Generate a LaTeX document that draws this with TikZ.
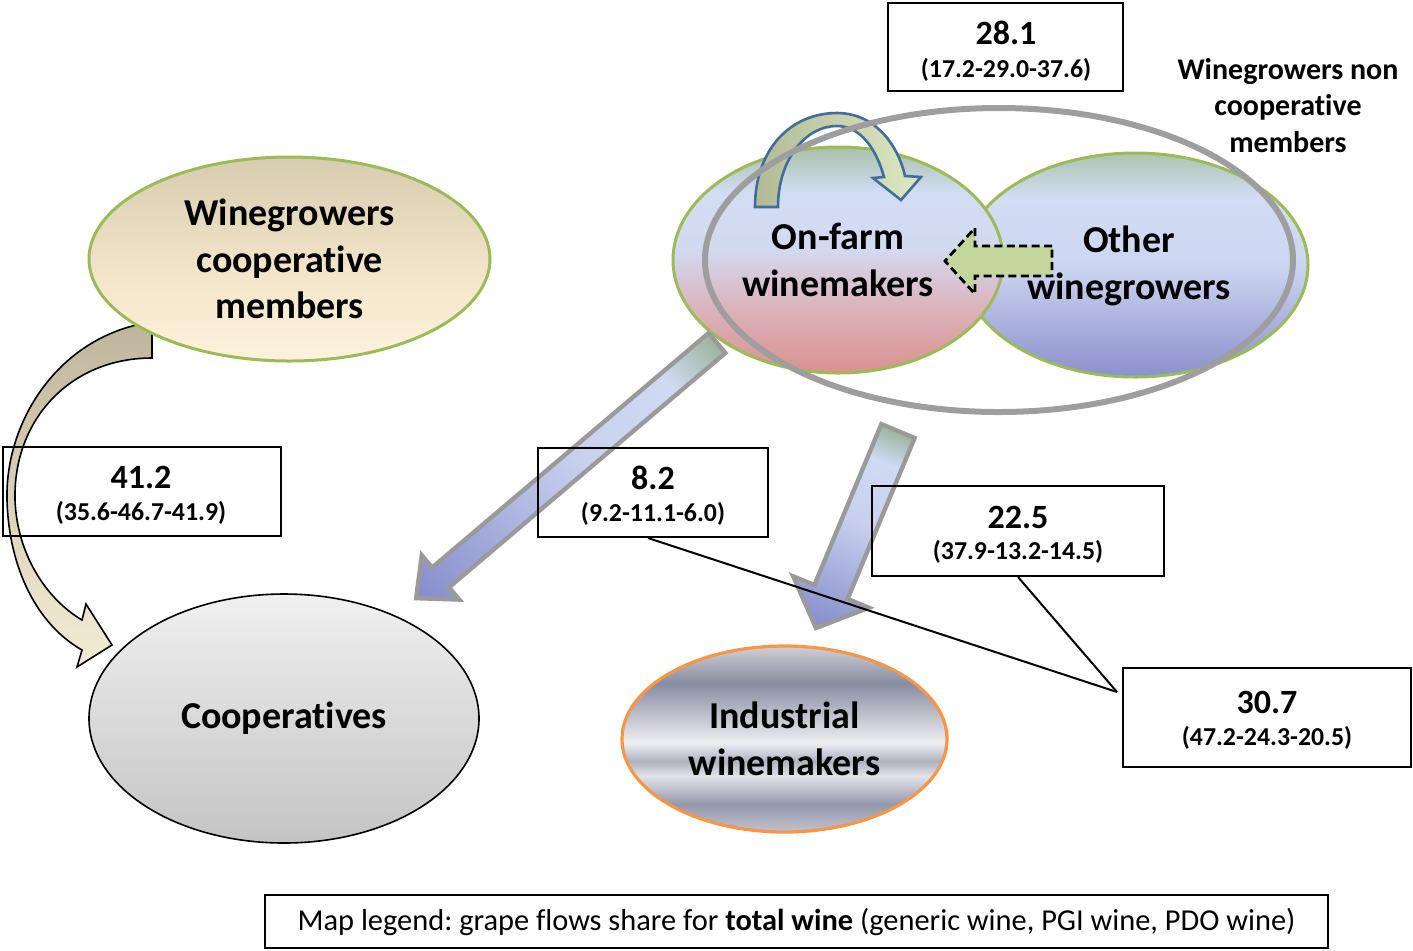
\documentclass[tikz,border=0pt]{standalone}
\usepackage{fontspec}
\setmainfont[Ligatures={NoCommon}]{Carlito}
\usetikzlibrary{shapes.geometric}
\frenchspacing

\definecolor{ggreen}{HTML}{9BBB59}
\definecolor{gorange}{HTML}{F79646}
\definecolor{ringgray}{HTML}{9E9E9E}
\definecolor{flowgray}{HTML}{9A9A9A}
\definecolor{circblue}{HTML}{3F6E9E}
\definecolor{dashgreen}{HTML}{C3D69B}
% coop members
\definecolor{cmT}{HTML}{D8CCB0}
\definecolor{cmM}{HTML}{F3E6CA}
\definecolor{cmB}{HTML}{FCF2DD}
% cooperatives
\definecolor{coT}{HTML}{F0F0F0}
\definecolor{coB}{HTML}{C4C4C4}
% industrial
\definecolor{inA}{HTML}{D0D0D6}
\definecolor{inB}{HTML}{888CA0}
\definecolor{inC}{HTML}{EEEEF2}
\definecolor{inD}{HTML}{B0B2C0}
\definecolor{inE}{HTML}{E2E2E8}
\definecolor{inF}{HTML}{9598AB}
\definecolor{inG}{HTML}{C0C2CC}
% on-farm
\definecolor{ofA}{HTML}{A9C0AA}
\definecolor{ofB}{HTML}{D2DCF2}
\definecolor{ofC}{HTML}{D2DAF0}
\definecolor{ofD}{HTML}{DBB5BE}
\definecolor{ofE}{HTML}{D9918F}
% other
\definecolor{otA}{HTML}{ADC4AE}
\definecolor{otB}{HTML}{D2DCF4}
\definecolor{otC}{HTML}{CDD6F0}
\definecolor{otD}{HTML}{8C8FCC}
% flows
\definecolor{fT}{HTML}{9CB49E}
\definecolor{fM}{HTML}{D0DAF2}
\definecolor{fM2}{HTML}{C8D0EE}
\definecolor{fB}{HTML}{868CCB}
% curved arrows
\definecolor{caT}{HTML}{BFB59C}
\definecolor{caB}{HTML}{F4ECD4}
\definecolor{crL}{HTML}{B2BA96}
\definecolor{crR}{HTML}{DCE9C2}

\pgfdeclareverticalshading{cmshade}{100bp}{color(0bp)=(cmB); color(25bp)=(cmB); color(45bp)=(cmM); color(75bp)=(cmT); color(100bp)=(cmT)}
\pgfdeclareverticalshading{coshade}{100bp}{color(0bp)=(coB); color(25bp)=(coB); color(75bp)=(coT); color(100bp)=(coT)}
\pgfdeclareverticalshading{inshade}{100bp}{color(0bp)=(inG); color(25bp)=(inG); color(32.5bp)=(inF); color(40bp)=(inE); color(44bp)=(inD); color(49bp)=(inC); color(65bp)=(inB); color(75bp)=(inA); color(100bp)=(inA)}
\pgfdeclareverticalshading{ofshade}{100bp}{color(0bp)=(ofE); color(25bp)=(ofE); color(40bp)=(ofD); color(52.5bp)=(ofC); color(65bp)=(ofB); color(75bp)=(ofA); color(100bp)=(ofA)}
\pgfdeclareverticalshading{otshade}{100bp}{color(0bp)=(otD); color(25bp)=(otD); color(50bp)=(otC); color(65bp)=(otB); color(75bp)=(otA); color(100bp)=(otA)}
\pgfdeclareverticalshading{flowshade}{100bp}{color(0bp)=(fB); color(25bp)=(fB); color(52bp)=(fM2); color(67bp)=(fM); color(75bp)=(fT); color(100bp)=(fT)}

\tikzset{
  elab/.style={font=\fontsize{19}{23.25}\selectfont\bfseries, align=center, text=black},
  numlab/.style={font=\fontsize{17}{20}\selectfont\bfseries, inner sep=0pt},
  sublab/.style={font=\fontsize{12.9}{15}\selectfont\bfseries, inner sep=0pt},
  valbox/.style={draw=black, line width=1pt, rectangle, inner sep=0pt},
  greenell/.style={ellipse, draw=ggreen, line width=1.5pt, inner sep=0pt, shade},
  flowarrow/.style={draw=flowgray, line width=2.2pt, shade, shading=flowshade, line join=miter},
  leader/.style={draw=black, line width=1pt},
}

\begin{document}
\begin{tikzpicture}[x=0.5pt, y=-0.5pt]
\useasboundingbox (0,0) rectangle (1413,950);

% curved arrow members -> cooperatives
\path[draw=black, line width=0.8pt, top color=caT, bottom color=caB]
  (152,322) .. controls (60,335) and (5,420) .. (7,500)
  .. controls (9,570) and (38,625) .. (82,650)
  -- (77,667) -- (112,645) -- (86,604) -- (82,620)
  .. controls (45,598) and (17,553) .. (15,500)
  .. controls (13,420) and (70,358) .. (152,358) -- cycle;

% ellipses
\node[greenell, shading=cmshade, minimum width=200.5pt, minimum height=102pt, elab] (coopmem) at (289.5,259) {Winegrowers\\cooperative\\members};
\node[ellipse, draw=black, line width=0.8pt, shade, shading=coshade, inner sep=0pt, minimum width=195pt, minimum height=124.5pt, elab] (coop) at (284,718.5) {Cooperatives};
\node[ellipse, draw=gorange, line width=1.6pt, shade, shading=inshade, inner sep=0pt, minimum width=162.5pt, minimum height=93pt, elab] (indus) at (784.5,739) {Industrial\\winemakers};
\node[greenell, shading=otshade, minimum width=173pt, minimum height=112pt] (other) at (1135,265) {};
\node[elab] (otherlbl) at (1129,266) {Other\\winegrowers};
\node[greenell, shading=ofshade, minimum width=165pt, minimum height=113pt, elab] (onfarm) at (838,260) {On-farm\\winemakers};

% circular arrow on on-farm
\path[draw=circblue, line width=1.3pt, left color=crL, right color=crR, line join=miter]
  (755,207) .. controls (755,150) and (790,113) .. (837,113)
  .. controls (875,113) and (898,145) .. (905,176)
  -- (921,177) -- (901,200) -- (873,178) -- (884,177)
  .. controls (876,148) and (860,126) .. (837,126)
  .. controls (805,126) and (778,160) .. (778,207) -- cycle;

% dashed arrow other -> on-farm
\path[draw=black, dashed, dash pattern=on 4pt off 2.2pt, line width=1.4pt, fill=dashgreen]
  (1052,246) -- (975,246) -- (975,228) -- (945,261) -- (975,294) -- (975,276) -- (1052,276) -- cycle;

% grey ring
\node[ellipse, draw=ringgray, line width=3pt, inner sep=0pt, minimum width=294pt, minimum height=152pt] (ring) at (999,260) {};

% flow arrow to cooperatives
\begin{scope}[transform canvas={shift={(717,343)}, rotate=-49.7}]
  \path[flowarrow] (-13,0) -- (-13,362.5) -- (-29,362.5) -- (0,394.5) -- (29,362.5) -- (13,362.5) -- (13,0) -- cycle;
\end{scope}
% flow arrow to industrial
\begin{scope}[transform canvas={shift={(898,431)}, rotate=-22.6}]
  \path[flowarrow] (-18,0) -- (-18,174.4) -- (-41,174.4) -- (0,213.4) -- (41,174.4) -- (18,174.4) -- (18,0) -- cycle;
\end{scope}

% value boxes
\node[valbox, minimum width=117.5pt, minimum height=44pt] (b281) at (1005.5,47) {};
\node[numlab] at (1006,33) {28.1};
\node[sublab] at (1006,70) {(17.2-29.0-37.6)};

\node[valbox, minimum width=139pt, minimum height=44.5pt] (b412) at (142,491.5) {};
\node[numlab] at (141,477) {41.2};
\node[sublab] at (141,513) {(35.6-46.7-41.9)};

\node[valbox, minimum width=115pt, minimum height=44.5pt] (b82) at (653,492.5) {};
\node[numlab] at (653,478) {8.2};
\node[sublab] at (653,514) {(9.2-11.1-6.0)};

\node[valbox, minimum width=146pt, minimum height=45pt] (b225) at (1018,531) {};
\node[numlab] at (1018,517) {22.5};
\node[sublab] at (1018,552) {(37.9-13.2-14.5)};

\node[valbox, minimum width=144pt, minimum height=49.5pt] (b307) at (1267,717.5) {};
\node[numlab] at (1267,702) {30.7};
\node[sublab] at (1267,738) {(47.2-24.3-20.5)};

% leader lines
\coordinate (j) at (1117,692);
\draw[leader] ([xshift=-2.5pt]b82.south) -- (j);
\draw[leader] (b225.south) -- (j);

% group label
\node[font=\fontsize{15}{18.25}\selectfont\bfseries, align=center] (nonlbl) at (1288,105.5) {Winegrowers non\\cooperative\\members};

% legend
\node[valbox, minimum width=531.5pt, minimum height=26.5pt, font=\fontsize{15.2}{18}\selectfont] (legend) at (796.5,921.5) {Map legend: grape flows share for \textbf{total wine} (generic wine, PGI wine, PDO wine)};
\end{tikzpicture}
\end{document}
